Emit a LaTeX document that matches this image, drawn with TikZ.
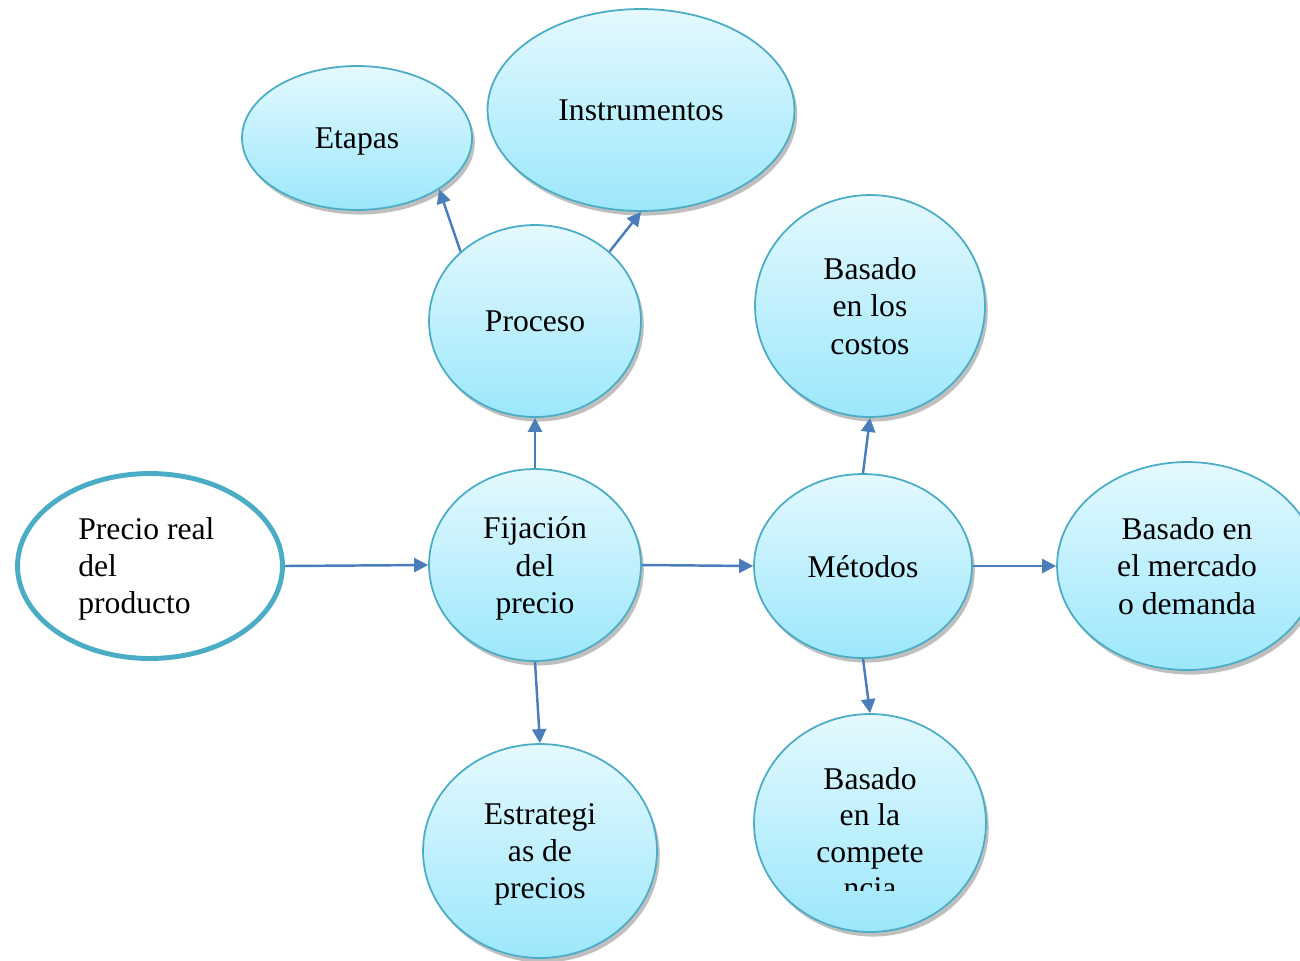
\documentclass[tikz,border=0pt]{standalone}
\usepackage{fontspec}
\setmainfont{Liberation Serif}
\usetikzlibrary{shapes.geometric,arrows.meta,shadows}
\definecolor{bordc}{RGB}{75,172,198}
\definecolor{arrc}{RGB}{74,126,187}
\definecolor{topc}{RGB}{228,249,254}
\definecolor{botc}{RGB}{156,231,252}
\begin{document}
\begin{tikzpicture}[x=0.02cm,y=-0.02cm,
  txt/.style={align=center,inner sep=0pt,font=\fontsize{18}{21.2}\selectfont},
  bubble/.style={ellipse, draw=bordc, line width=1pt, top color=topc, bottom color=botc,
    inner sep=0pt, txt, text depth=0pt,
    drop shadow={shadow xshift=1.6pt, shadow yshift=-2.6pt, opacity=0.25, fill=black}},
  conn/.style={draw=arrc, line width=1.4pt, -{Triangle[length=8pt,width=8pt]}}]
\useasboundingbox (0,0) rectangle (1300,960);
\clip (0,0) rectangle (1300,960);
% nodes
\node[bubble, minimum width=4.6cm, minimum height=2.88cm] (etapas) at (357,138) {Etapas};
\node[bubble, minimum width=6.14cm, minimum height=4.04cm] (instr) at (641,110) {Instrumentos};
\node[bubble, minimum width=4.24cm, minimum height=3.84cm] (proceso) at (535,321) {Proceso};
\node[bubble, minimum width=4.6cm, minimum height=4.44cm] (costos) at (870,306) {Basado\\en los\\costos};
\node[ellipse, draw=bordc, line width=2.8pt, fill=white, minimum width=5.3cm, minimum height=3.7cm] (precio) at (150,566) {};
\node[txt, align=left, anchor=west] (preciotext) at (78,569) {Precio real\\del\\producto};
\node[bubble, minimum width=4.24cm, minimum height=3.84cm] (fij) at (535,565) {Fijación\\del\\precio};
\node[bubble, minimum width=4.36cm, minimum height=3.68cm] (met) at (863,566) {Métodos};
\node[bubble, minimum width=5.2cm, minimum height=4.16cm] (merc) at (1187,566) {Basado en\\el mercado\\o demanda};
\node[bubble, minimum width=4.68cm, minimum height=4.28cm] (estr) at (540,851) {Estrategi\\as de\\precios};
\node[bubble, minimum width=4.64cm, minimum height=4.36cm] (comp) at (870,823) {};
\begin{scope}
  \clip (760,700) rectangle (980,890);
  \node[txt, font=\fontsize{18}{20.8}\selectfont] (comptext) at (870,833) {Basado\\en la\\compete\\ncia};
\end{scope}
% connectors
\draw[conn] (precio.east) -- (fij.west);
\draw[conn] (fij.north) -- (proceso.south);
\draw[conn] (fij.east) -- (met.west);
\draw[conn] (fij.south) -- (estr.north);
\draw[conn] (proceso.137) -- (etapas.-32);
\draw[conn] (proceso.43) -- (instr.south);
\draw[conn] (met.north) -- (costos.south);
\draw[conn] (met.east) -- (merc.west);
\draw[conn] (met.south) -- (comp.north);
\end{tikzpicture}
\end{document}
